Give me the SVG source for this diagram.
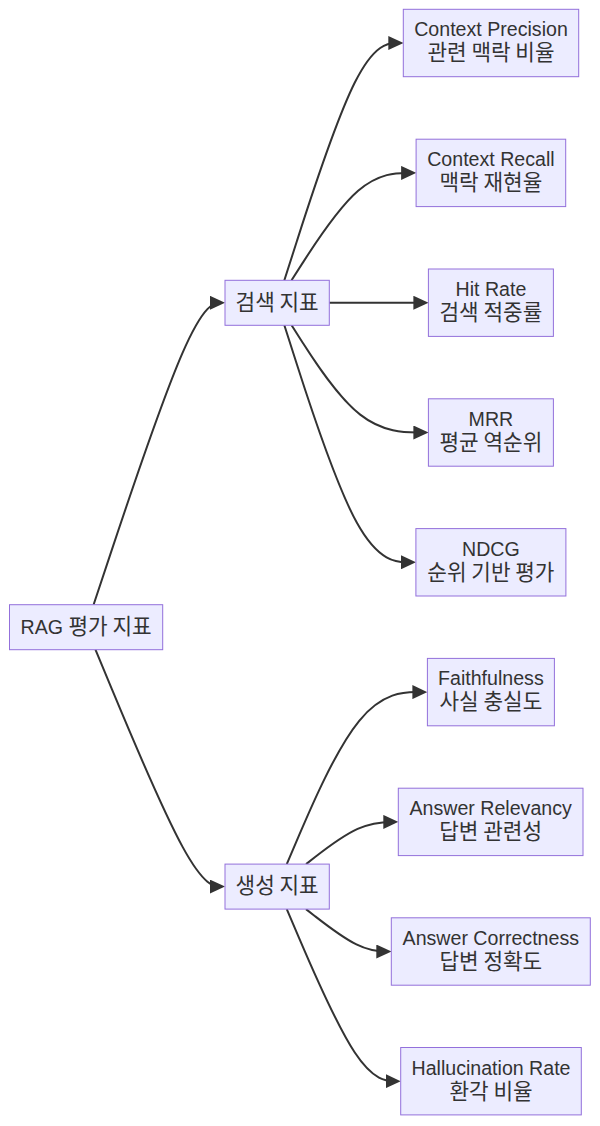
<svg xmlns="http://www.w3.org/2000/svg" width="600" height="1126" viewBox="0 0 600 1126">
<style>
.node rect{fill:#ECECFF;stroke:#9370DB;stroke-width:1}
.node text{font-family:"Liberation Sans","Noto Sans CJK KR",sans-serif;font-size:19.6px;fill:#333333;text-anchor:middle}
.node .ko{font-family:"Noto Sans CJK KR","Liberation Sans",sans-serif;font-size:21.3px}
.edge{fill:none;stroke:#333333;stroke-width:2;marker-end:url(#arrow)}
</style>
<defs>
<marker id="arrow" viewBox="0 0 15 14" markerUnits="userSpaceOnUse" markerWidth="15" markerHeight="14" refX="11" refY="7" orient="auto">
<path d="M0,0 L15,7 L0,14 z" fill="#333333"/>
</marker>
</defs>
<rect width="600" height="1126" fill="#ffffff"/>
<g id="connectors">
<path class="edge" d="M93.58,604.7 L110.32,554.38 C127.05,504.07 160.53,403.43 182.43,353.12 C204.33,302.8 214.67,302.8 219.83,302.8 L221,302.8"/>
<path class="edge" d="M95.46,649.7 L111.88,689.18 C128.31,728.67 161.15,807.63 182.74,847.12 C204.33,886.6 214.67,886.6 219.83,886.6 L221,886.6"/>
<path class="edge" d="M284.35,280.3 L297.01,240.75 C309.67,201.2 334.98,122.1 354.81,82.55 C374.63,43 388.97,43 396.13,43 L399.3,43"/>
<path class="edge" d="M291.55,280.3 L303.01,262.4 C314.47,244.5 337.38,208.7 358.14,190.8 C378.9,172.9 397.5,172.9 406.8,172.9 L412.1,172.9"/>
<path class="edge" d="M329.3,302.75 L424.4,302.75"/>
<path class="edge" d="M291.6,325.3 L303.05,343.17 C314.5,361.03 337.4,396.77 360.2,414.63 C383,432.5 405.7,432.5 417.05,432.5 L424.4,432.5"/>
<path class="edge" d="M284.36,325.3 L297.02,364.8 C309.67,404.3 334.99,483.3 356.91,522.8 C378.83,562.3 397.37,562.3 406.63,562.3 L411.9,562.3"/>
<path class="edge" d="M286.77,864.1 L299.03,835.43 C311.28,806.77 335.79,749.43 359.23,720.77 C382.67,692.1 405.03,692.1 416.22,692.1 L423.4,692.1"/>
<path class="edge" d="M306.07,864.1 L315.11,857.07 C324.15,850.03 342.22,835.97 357.6,828.93 C372.97,821.9 385.63,821.9 391.97,821.9 L394.3,821.9"/>
<path class="edge" d="M305.98,909.1 L315.03,916.17 C324.09,923.23 342.19,937.37 356.41,944.43 C370.63,951.5 380.97,951.5 386.13,951.5 L387.3,951.5"/>
<path class="edge" d="M286.76,909.1 L299.02,937.78 C311.27,966.47 335.79,1023.83 354.78,1052.52 C373.77,1081.2 387.23,1081.2 393.97,1081.2 L396.7,1081.2"/>
</g>
<g id="rag" class="node"><rect x="9.5" y="604.7" width="153.2" height="45"/><text x="86.1" y="633.6">RAG <tspan class="ko">평가 지표</tspan></text></g>
<g id="retrieval" class="node"><rect x="225" y="280.3" width="104.3" height="45"/><text class="ko" x="277.15" y="309.6">검색 지표</text></g>
<g id="generation" class="node"><rect x="225" y="864.1" width="104.3" height="45"/><text class="ko" x="277.15" y="893.4">생성 지표</text></g>
<g id="context-precision" class="node"><rect x="403.3" y="9.3" width="175.4" height="67.4"/><text x="491" y="36.3">Context Precision</text><text class="ko" x="491" y="60.3">관련 맥락 비율</text></g>
<g id="context-recall" class="node"><rect x="416.1" y="139.2" width="149.6" height="67.4"/><text x="490.9" y="166.2">Context Recall</text><text class="ko" x="490.9" y="190.2">맥락 재현율</text></g>
<g id="hit-rate" class="node"><rect x="428.4" y="269" width="125" height="67.4"/><text x="490.9" y="296">Hit Rate</text><text class="ko" x="490.9" y="320">검색 적중률</text></g>
<g id="mrr" class="node"><rect x="428.4" y="398.8" width="125" height="67.4"/><text x="490.9" y="425.8">MRR</text><text class="ko" x="490.9" y="449.8">평균 역순위</text></g>
<g id="ndcg" class="node"><rect x="415.9" y="528.6" width="150" height="67.4"/><text x="490.9" y="555.6">NDCG</text><text class="ko" x="490.9" y="579.6">순위 기반 평가</text></g>
<g id="faithfulness" class="node"><rect x="427.4" y="658.4" width="127" height="67.4"/><text x="490.9" y="685.4">Faithfulness</text><text class="ko" x="490.9" y="709.4">사실 충실도</text></g>
<g id="answer-relevancy" class="node"><rect x="398.3" y="788.2" width="184.7" height="67.4"/><text x="490.65" y="815.2">Answer Relevancy</text><text class="ko" x="490.65" y="839.2">답변 관련성</text></g>
<g id="answer-correctness" class="node"><rect x="391.3" y="917.8" width="199" height="67.4"/><text x="490.8" y="944.8">Answer Correctness</text><text class="ko" x="490.8" y="968.8">답변 정확도</text></g>
<g id="hallucination-rate" class="node"><rect x="400.7" y="1047.5" width="180.6" height="67.4"/><text x="491" y="1074.5">Hallucination Rate</text><text class="ko" x="491" y="1098.5">환각 비율</text></g>
</svg>
